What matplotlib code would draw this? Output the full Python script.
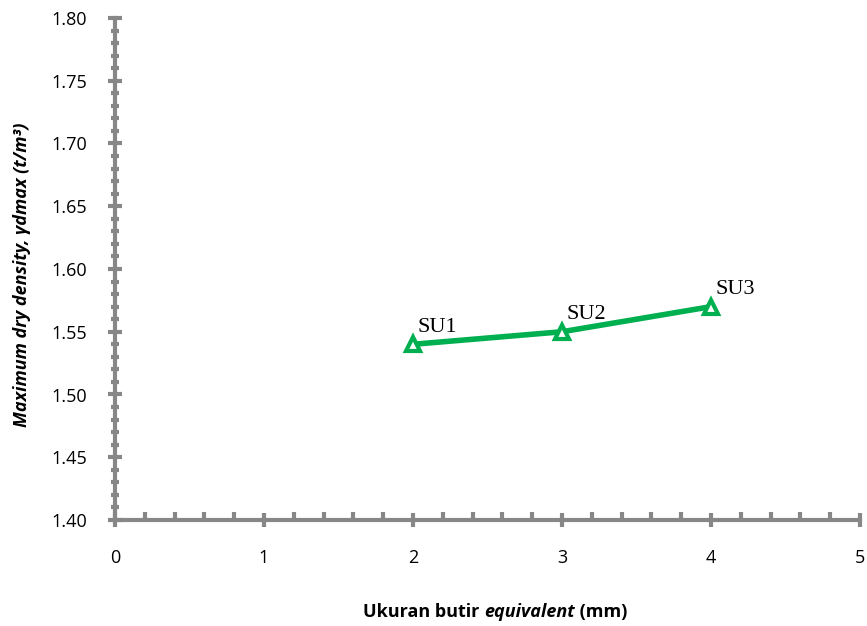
import matplotlib
matplotlib.use("Agg")
import matplotlib.pyplot as plt
from matplotlib.ticker import MultipleLocator, FormatStrFormatter
from matplotlib.offsetbox import TextArea, HPacker, AnchoredOffsetbox

x_vals = [2, 3, 4]
y_vals = [1.54, 1.55, 1.57]
point_labels = ["SU1", "SU2", "SU3"]

plt.rcParams['font.family'] = ['Open Sans', 'DejaVu Sans']

fig = plt.figure(figsize=(8.67, 6.26), dpi=100)
ax = fig.add_axes([115/867, 1-520/626, (860-115)/867, (520-18)/626])

green = "#00B050"
grey = "#878787"

ax.plot(x_vals, y_vals, color=green, lw=4, marker='^', ms=10,
        mfc='white', mec=green, mew=3, zorder=5, clip_on=False)
for xv, yv, lab in zip(x_vals, y_vals, point_labels):
    ax.annotate(lab, (xv, yv), xytext=(3, 9), textcoords='offset points',
                fontsize=16, family='Liberation Serif', ha='left', va='baseline')

ax.set_xlim(0, 5)
ax.set_ylim(1.40, 1.80)
ax.xaxis.set_major_locator(MultipleLocator(1))
ax.xaxis.set_minor_locator(MultipleLocator(0.2))
ax.yaxis.set_major_locator(MultipleLocator(0.05))
ax.yaxis.set_minor_locator(MultipleLocator(0.01))
ax.yaxis.set_major_formatter(FormatStrFormatter('%.2f'))

for s in ['top', 'right']:
    ax.spines[s].set_visible(False)
for s in ['left', 'bottom']:
    ax.spines[s].set_color(grey)
    ax.spines[s].set_linewidth(3)

ax.tick_params(axis='x', which='minor', direction='in', length=6, width=3, color=grey)
ax.tick_params(axis='y', which='minor', direction='inout', length=6, width=3, color=grey)
ax.tick_params(axis='y', which='major', direction='inout', length=10,
               width=3, color=grey, labelsize=13, pad=15)
ax.tick_params(axis='x', which='major', direction='inout', length=10,
               width=3, color=grey, labelsize=13, pad=16)

# x label with mixed styles
parts = [
    TextArea("Ukuran butir ", textprops=dict(fontsize=13, fontweight='bold')),
    TextArea("equivalent", textprops=dict(fontsize=13, fontweight='bold', fontstyle='italic')),
    TextArea(" (mm)", textprops=dict(fontsize=13, fontweight='bold')),
]
box = HPacker(children=parts, align='baseline', pad=0, sep=0)
anch = AnchoredOffsetbox(loc='center', child=box, frameon=False,
                         bbox_to_anchor=(495/867, 1-612/626),
                         bbox_transform=fig.transFigure, borderpad=0, pad=0)
fig.add_artist(anch)

fig.text(22/867, 1-275/626, "Maximum dry density, γdmax (t/m³)", rotation=90,
         fontsize=13, fontweight='bold', fontstyle='italic', ha='center', va='center')

fig.savefig("out.png", dpi=100)
